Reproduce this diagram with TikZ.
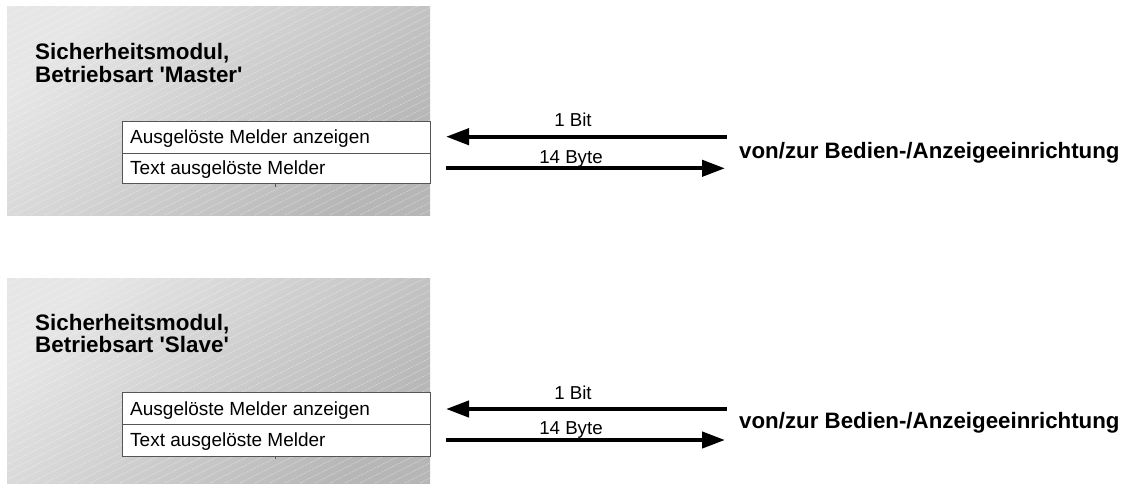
\documentclass[tikz,border=0pt]{standalone}
\usepackage{fontspec}
\setmainfont{Liberation Sans}
\usetikzlibrary{arrows.meta}
\definecolor{boxlight}{HTML}{E6E6E6}
\definecolor{boxdark}{HTML}{B6B6B6}
\definecolor{frame}{HTML}{555555}
\tikzset{
  modbg/.style={shade, top color=boxlight, bottom color=boxdark, shading angle=45, draw=none},
  stripe/.style={white, opacity=0.45, line width=0.6pt, dash pattern=on 2pt off 1pt},
  cell/.style={draw=frame, line width=1pt, fill=white},
  celltext/.style={anchor=base west, inner sep=0pt, font=\fontsize{19}{21}\selectfont},
  titletext/.style={anchor=base west, inner sep=0pt, font=\bfseries\fontsize{22.4}{23}\selectfont},
  lbl/.style={anchor=base, inner sep=0pt, font=\fontsize{18.7}{20}\selectfont},
  flow/.style={line width=4.2pt, -{Triangle[length=23pt, width=16pt]}},
  ext/.style={anchor=base west, inner sep=0pt, font=\bfseries\fontsize{22.3}{24}\selectfont}
}
\begin{document}
\begin{tikzpicture}[x=1pt, y=-1pt]
\useasboundingbox (0,0) rectangle (1138,483);

% ---------- module 1 (Master) ----------
\path[modbg] (7,6) rectangle (430,215);
\begin{scope}
  \clip (7,6) rectangle (430,215);
  \foreach \s in {-420,-405,...,440} {
    \draw[stripe] (\s,215) -- ++(420,-210);
  }
\end{scope}
\node[titletext] (m1a) at (35,59.5) {Sicherheitsmodul,};
\node[titletext] (m1b) at (35,82) {Betriebsart \textquotesingle Master\textquotesingle};
\draw[cell] (122,121.7) rectangle (430,153.3);
\draw[cell] (122,153.3) rectangle (430,183.3);
\draw[frame, line width=0.8pt] (275,183.3) -- (275,187);
\node[celltext] (c1a) at (130,143.5) {Ausgelöste Melder anzeigen};
\node[celltext] (c1b) at (130,174) {Text ausgelöste Melder};
\coordinate (r1a) at (727,136.7);
\coordinate (l1a) at (446,136.7);
\coordinate (l1b) at (446,168.3);
\coordinate (r1b) at (725,168.3);
\draw[flow] (r1a) -- (l1a);
\draw[flow] (l1b) -- (r1b);
\node[lbl] (b1) at (573,126) {1 Bit};
\node[lbl] (y1) at (571,163) {14 Byte};
\node[ext] (e1) at (739,158.3) {von/zur Bedien-/Anzeigeeinrichtung};

% ---------- module 2 (Slave) ----------
\path[modbg] (7,278) rectangle (430,483);
\begin{scope}
  \clip (7,278) rectangle (430,483);
  \foreach \s in {-420,-405,...,440} {
    \draw[stripe] (\s,483) -- ++(420,-210);
  }
\end{scope}
\node[titletext] (m2a) at (35,330) {Sicherheitsmodul,};
\node[titletext] (m2b) at (35,352.5) {Betriebsart \textquotesingle Slave\textquotesingle};
\draw[cell] (122,392) rectangle (430,424);
\draw[cell] (122,424) rectangle (430,456);
\draw[frame, line width=0.8pt] (275,456) -- (275,459);
\node[celltext] (c2a) at (130,415.7) {Ausgelöste Melder anzeigen};
\node[celltext] (c2b) at (130,446.7) {Text ausgelöste Melder};
\coordinate (r2a) at (727,409);
\coordinate (l2a) at (446,409);
\coordinate (l2b) at (446,440);
\coordinate (r2b) at (725,440);
\draw[flow] (r2a) -- (l2a);
\draw[flow] (l2b) -- (r2b);
\node[lbl] (b2) at (573,399) {1 Bit};
\node[lbl] (y2) at (571,434) {14 Byte};
\node[ext] (e2) at (739,428) {von/zur Bedien-/Anzeigeeinrichtung};
\end{tikzpicture}
\end{document}
